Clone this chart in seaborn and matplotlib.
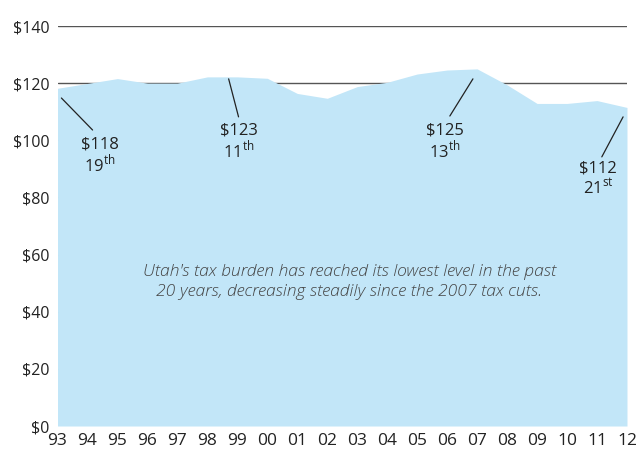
import seaborn as sns
import matplotlib.pyplot as plt
import pandas as pd

# tax burden per $1,000 of personal income, Utah
years = ['93', '94', '95', '96', '97', '98', '99', '00', '01', '02',
         '03', '04', '05', '06', '07', '08', '09', '10', '11', '12']
burden = [118.2, 119.9, 121.6, 120.0, 120.0, 122.2, 122.2, 121.7, 116.4, 114.7,
          118.8, 120.3, 123.2, 124.6, 125.0, 119.4, 112.9, 112.9, 113.9, 111.5]

callout_values = ['$118', '$123', '$125', '$112']
callout_ranks = ['19', '11', '13', '21']
callout_suffix = ['th', 'th', 'th', 'st']

note = ("Utah's tax burden has reached its lowest level in the past\n"
        "20 years, decreasing steadily since the 2007 tax cuts.")

df = pd.DataFrame({'pos': range(len(years)), 'burden': burden})

sns.set_theme(style='white')
plt.rcParams['font.family'] = ['Open Sans', 'DejaVu Sans']

fig = plt.figure(figsize=(6.39, 4.5), dpi=100)
ax = fig.add_axes([0.0900, 0.0533, 0.8912, 0.8889])

ax.fill_between(df['pos'], 0, df['burden'], color='#c2e6f8', lw=0, zorder=2)
sns.lineplot(data=df, x='pos', y='burden', ax=ax, color='#c2e6f8', lw=0, zorder=2)

ax.set_xlim(0, len(years) - 1)
ax.set_ylim(0, 140)
ax.set_yticks(range(0, 141, 20))
ax.set_yticklabels([f'${v}' for v in range(0, 141, 20)])
ax.set_xticks(range(len(years)))
ax.set_xticklabels(years)
ax.tick_params(axis='both', length=0, colors='#222222')
ax.tick_params(axis='y', labelsize=11.5, pad=6)
ax.tick_params(axis='x', labelsize=12.5, pad=5)
ax.yaxis.grid(True, color='#555555', lw=1, zorder=1)
ax.set_axisbelow(True)
for s in ax.spines.values():
    s.set_visible(False)
ax.set_xlabel('')
ax.set_ylabel('')

# leader lines (start, end) and text centre, in data units
leaders = [((0.13, 114.8), (1.17, 103.6), (1.40, 98.4)),
           ((5.71, 121.5), (6.04, 108.2), (6.04, 103.3)),
           ((13.86, 121.5), (13.09, 108.5), (12.92, 103.3)),
           ((18.87, 108.2), (18.16, 94.2), (18.03, 90.0))]
for (p0, p1, t), val, rank, suf in zip(leaders, callout_values,
                                       callout_ranks, callout_suffix):
    ax.plot([p0[0], p1[0]], [p0[1], p1[1]], color='#222222', lw=0.9, zorder=3)
    ax.text(t[0], t[1], val, ha='center', va='center', fontsize=12,
            color='#222222', zorder=4)
    ax.text(t[0], t[1] - 6.6, rank + r'$^{\mathregular{' + suf + '}}$',
            ha='center', va='center', fontsize=12, color='#222222', zorder=4)

ax.text(9.74, 50.5, note, ha='center', va='center', fontsize=12.6,
        style='italic', fontweight='light', color='#444444',
        linespacing=1.3, zorder=4)

fig.savefig('out.png', dpi=100)
